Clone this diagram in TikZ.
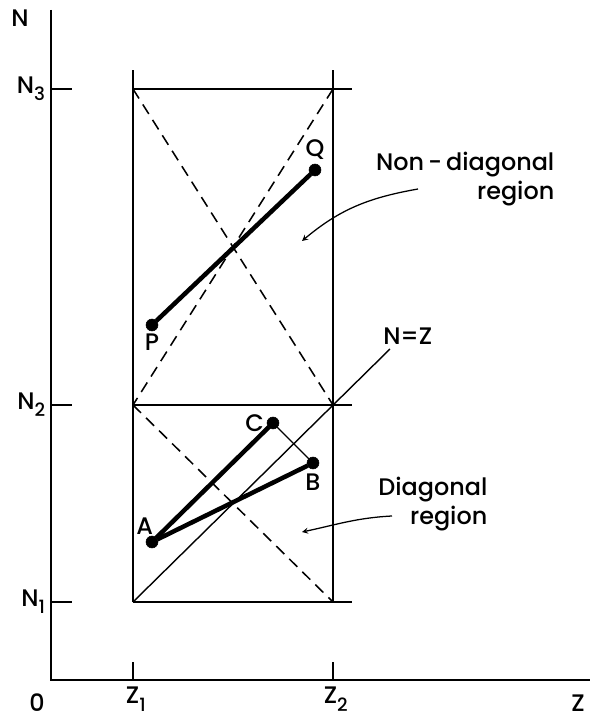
\documentclass[tikz,border=0pt]{standalone}
\usepackage{fontspec}
\setmainfont{Poppins}[UprightFont=* Medium]
\usepackage{tikz}
\usetikzlibrary{arrows,positioning,calc}
\newcommand{\idx}[2]{#1\raisebox{-0.55ex}{\fontsize{13}{14}\selectfont #2}}
\tikzset{
    axis/.style={-,line width=1.6pt},
    frame/.style={-,line width=1.6pt},
    diag/.style={-,line width=1.1pt,dash pattern=on 8pt off 5pt},
    thin/.style={-,line width=1pt},
    path/.style={-,line width=3.2pt},
    dot/.style = {draw,fill,circle,inner sep=0pt,outer sep=0pt,minimum size=8.5pt},
    lbl/.style = {inner sep=1pt,font=\fontsize{17}{20}\selectfont},
    pointer/.style={-stealth,line width=0.9pt},
}

\begin{document}
\begin{tikzpicture}[x=0.025cm,y=0.025cm]
                \useasboundingbox (-51,-39) rectangle (539,680);
                % axes
                \coordinate (o) at (0,0);
                \coordinate (ntop) at (0,670);
                \coordinate (zend) at (539,0);
                \draw[axis] (ntop) -- (o) -- (zend);
                \node[lbl] at (-31,662) {N};
                \node[lbl] at (-14,-23) {0};
                \node[lbl] at (527,-23) {Z};
                % levels N1, N2, N3
                \foreach \n/\y in {1/78,2/275,3/591}{
                    \coordinate (l\n) at (0,\y);
                    \coordinate (t\n) at (21,\y);
                    \coordinate (a\n) at (82,\y);
                    \coordinate (b\n) at (282,\y);
                    \coordinate (e\n) at (301,\y);
                    \draw[axis] (l\n) -- (t\n);
                    \draw[frame] (a\n) -- (e\n);
                    \node[lbl,left=3pt of l\n] {\idx{N}{\n}};
                }
                % Z1, Z2
                \foreach \z/\x in {1/82,2/282}{
                    \coordinate (z\z) at (\x,0);
                    \coordinate (u\z) at (\x,18);
                    \coordinate (v\z) at (\x,610);
                    \draw[axis] (z\z) -- (u\z);
                    \draw[frame] (a1 -| z\z) -- (v\z);
                    \node[lbl,below=4pt of z\z,xshift=2pt] {\idx{Z}{\z}};
                }
                % diagonals
                \draw[diag] (a3) -- (b2);
                \draw[diag] (b3) -- (a2);
                \draw[diag] (a2) -- (b1);
                \coordinate (nz) at (339,331);
                \draw[thin] (a1) -- (nz);
                \node[lbl,above right=2pt and -6pt of nz] {N=Z};
                % points
                \node[dot] (P) at (101,355) {};
                \node[dot] (Q) at (264,510) {};
                \node[dot] (A) at (101,138) {};
                \node[dot] (C) at (222,257) {};
                \node[dot] (B) at (262,217) {};
                \node[lbl,below=1pt of P] {P};
                \node[lbl,above=2pt of Q] {Q};
                \node[lbl,above left=1pt and -5pt of A] {A};
                \node[lbl,left=1pt of C] {C};
                \node[lbl,below=2pt of B] {B};
                \draw[path] (P) -- (Q);
                \draw[path] (A) -- (C);
                \draw[path] (A) -- (B);
                \draw[thin] (C) -- (B);
                % region labels
                \node[lbl,align=right,anchor=east] (nd) at (505,501) {Non\,-\,diagonal\\region};
                \node[lbl,align=right,anchor=east] (dg) at (438,176) {Diagonal\\region};
                \coordinate (ndtip) at (251,439);
                \coordinate (dgtip) at (251,148);
                \draw[pointer] (367,491) to[out=190,in=40] (ndtip);
                \draw[pointer] (341,164) to[out=183,in=12] (dgtip);
            \end{tikzpicture}
\end{document}
